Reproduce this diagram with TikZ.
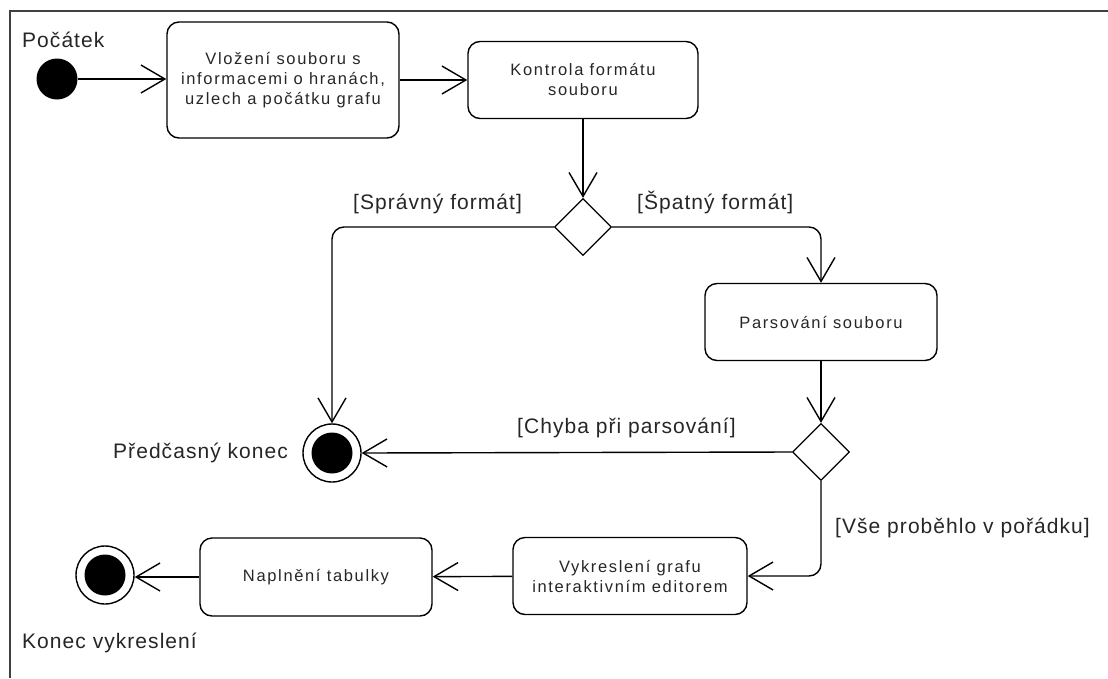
\documentclass[tikz,border=0pt]{standalone}
\usepackage{fontspec}
\setmainfont{Liberation Sans}
\newfontfamily\lblfont[LetterSpace=5]{Liberation Sans}
\newfontfamily\boxfont[LetterSpace=10]{Liberation Sans}
\usetikzlibrary{arrows.meta,shapes.geometric}
\tikzset{
  action/.style={draw, line width=1.4pt, rounded corners=12pt, align=center,
    text=black!85, inner sep=0pt,
    font=\boxfont\fontsize{16.5}{20}\selectfont},
  decision/.style={draw, line width=1.3pt, diamond, aspect=1, inner sep=0pt,
    minimum width=57pt, minimum height=57pt},
  initial/.style={circle, fill=black, inner sep=0pt, minimum size=41pt},
  final/.style={circle, draw, line width=1.4pt, inner sep=0pt, minimum size=58pt,
    path picture={\fill[black] (path picture bounding box.center) circle (20.5pt);}},
  flow/.style={line width=1.4pt, rounded corners=12pt,
    -{Straight Barb[length=24pt, width=28pt, line width=1.4pt]}},
  lbl/.style={anchor=base west, inner sep=0pt, text=black!85,
    font=\lblfont\fontsize{21}{25}\selectfont}
}
\begin{document}
\begin{tikzpicture}[x=1pt, y=-1pt]
  \useasboundingbox (0,0) rectangle (1108,678);
  % frame
  \draw[line width=1.5pt, black!75] (10,678) -- (10,11) -- (1108,11);

  % nodes
  \node[initial] (start) at (57,79) {};
  \node[action, minimum width=232pt, minimum height=116pt] (load) at (283,80)
    {Vložení souboru s\\informacemi o hranách,\\uzlech a počátku grafu};
  \node[action, minimum width=230pt, minimum height=77pt] (check) at (583,80)
    {Kontrola formátu\\souboru};
  \node[decision] (d1) at (583,227) {};
  \node[action, minimum width=232pt, minimum height=77pt] (parse) at (821,322)
    {Parsování souboru};
  \node[decision] (d2) at (821,452) {};
  \node[final] (early) at (332,453) {};
  \node[action, minimum width=234pt, minimum height=77pt] (render) at (630,576)
    {Vykreslení grafu\\interaktivním editorem};
  \node[action, minimum width=232pt, minimum height=78pt] (fill) at (316,577)
    {Naplnění tabulky};
  \node[final] (done) at (105,575) {};

  % labels
  \node[lbl] (lstart) at (22,47) {Počátek};
  \node[lbl] (lok) at (353,209) {[Správný formát]};
  \node[lbl] (lbad) at (637,209) {[Špatný formát]};
  \node[lbl] (learly) at (113,458) {Předčasný konec};
  \node[lbl] (lerr) at (517,433) {[Chyba při parsování]};
  \node[lbl] (lfine) at (835,533) {[Vše proběhlo v pořádku]};
  \node[lbl] (ldone) at (22,648) {Konec vykreslení};

  % connectors
  \draw[flow] (start) -- (load.west |- start);
  \draw[flow] (load) -- (check);
  \draw[flow] (check) -- (d1.north);
  \draw[flow] (d1.west) -| (early.north);
  \draw[flow] (d1.east) -| (parse.north);
  \draw[flow] (parse) -- (d2.north);
  \draw[flow] (d2.west) -- (early.east);
  \draw[flow] (d2.south) |- (render.east);
  \draw[flow] (render) -- (fill);
  \draw[flow] (fill.west) -- (done.east |- fill.west);
\end{tikzpicture}
\end{document}
